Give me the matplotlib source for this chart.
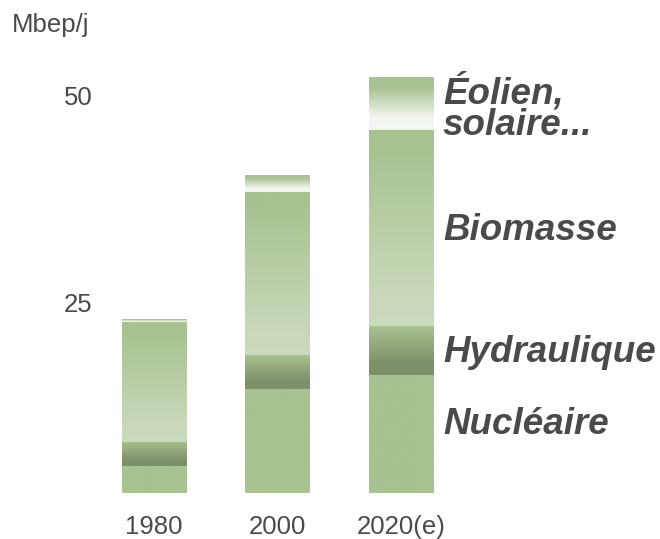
import numpy as np
import matplotlib
matplotlib.use("Agg")
import matplotlib.pyplot as plt
from matplotlib.colors import LinearSegmentedColormap
import matplotlib.transforms as mtransforms

# ---- data (Mbep/j) ----
years = ["1980", "2000", "2020(e)"]
nucleaire = [3.3, 12.6, 14.3]
hydraulique = [2.9, 4.1, 5.9]
biomasse = [14.4, 19.6, 23.7]
eolien_solaire = [0.3, 2.0, 6.4]
series_labels = ["Nucléaire", "Hydraulique", "Biomasse", "Éolien,\nsolaire..."]
y_ticks = [25, 50]
unit_label = "Mbep/j"

# ---- styles ----
GREEN = "#a8c291"
gradients = {
    "Nucléaire": [(0.0, GREEN), (1.0, GREEN)],
    "Hydraulique": [(0.0, "#a9c291"), (0.75, "#7f916a"), (1.0, "#7d8f68")],
    "Biomasse": [(0.0, GREEN), (0.1, GREEN), (0.85, "#c9d8b9"), (1.0, "#cbd9bc")],
    "Éolien,\nsolaire...": [(0.0, GREEN), (0.2, "#a9c292"), (0.75, "#f1f5ed"), (1.0, "#f4f7f0")],
}
label_offsets_px = {"Nucléaire": 9, "Hydraulique": -2, "Biomasse": -3, "Éolien,\nsolaire...": -5}
TEXT = "#4a4a4a"

fig = plt.figure(figsize=(6.6, 5.39), dpi=100)
ax = fig.add_axes([92.25 / 660, 46 / 539, 370.5 / 660, 455.4 / 539])

x = np.arange(len(years))
width = 0.52
stack = [nucleaire, hydraulique, biomasse, eolien_solaire]

bottoms = np.zeros(len(years))
seg_centers = []
for name, vals in zip(series_labels, stack):
    vals = np.array(vals, dtype=float)
    cmap = LinearSegmentedColormap.from_list(name.replace("\n", " "), gradients[name])
    grad = np.linspace(0, 1, 256).reshape(-1, 1)  # row 0 = top
    for i in range(len(years)):
        if vals[i] <= 0:
            continue
        ax.imshow(grad, cmap=cmap, aspect="auto", interpolation="bilinear",
                  extent=(x[i] - width / 2, x[i] + width / 2, bottoms[i], bottoms[i] + vals[i]),
                  origin="upper", zorder=2)
    seg_centers.append(bottoms[-1] + vals[-1] / 2)
    bottoms = bottoms + vals

ax.set_xlim(-0.5, 2.5)
ax.set_ylim(0, 55)

for s in ax.spines.values():
    s.set_visible(False)

ax.set_xticks(x)
ax.set_xticklabels(years, fontsize=18.5, color=TEXT, family="Liberation Sans")
ax.tick_params(axis="x", length=0, pad=16)
ax.set_yticks(y_ticks)
ax.set_yticklabels([str(t) for t in y_ticks], fontsize=18.5, color=TEXT, family="Liberation Sans")
ax.tick_params(axis="y", length=0, pad=0)
off = mtransforms.ScaledTranslation(0, -16 / 100, fig.dpi_scale_trans)
for lab in ax.get_yticklabels():
    lab.set_transform(lab.get_transform() + off)

# series labels to the right of last bar
lx = x[-1] + width / 2 + 0.08
for name, yc in zip(series_labels, seg_centers):
    t = ax.text(lx, yc, name, fontsize=26.5, fontweight="bold", fontstyle="italic",
                family="Liberation Sans", color=TEXT, va="center", ha="left",
                linespacing=0.85, clip_on=False)
    t.set_transform(ax.transData + mtransforms.ScaledTranslation(
        0, label_offsets_px[name] / 100, fig.dpi_scale_trans))

fig.text(12 / 660, 1 - 32 / 539, unit_label, fontsize=18.5, color=TEXT,
         family="Liberation Sans", va="baseline", ha="left")

fig.savefig("out.png", dpi=100)
